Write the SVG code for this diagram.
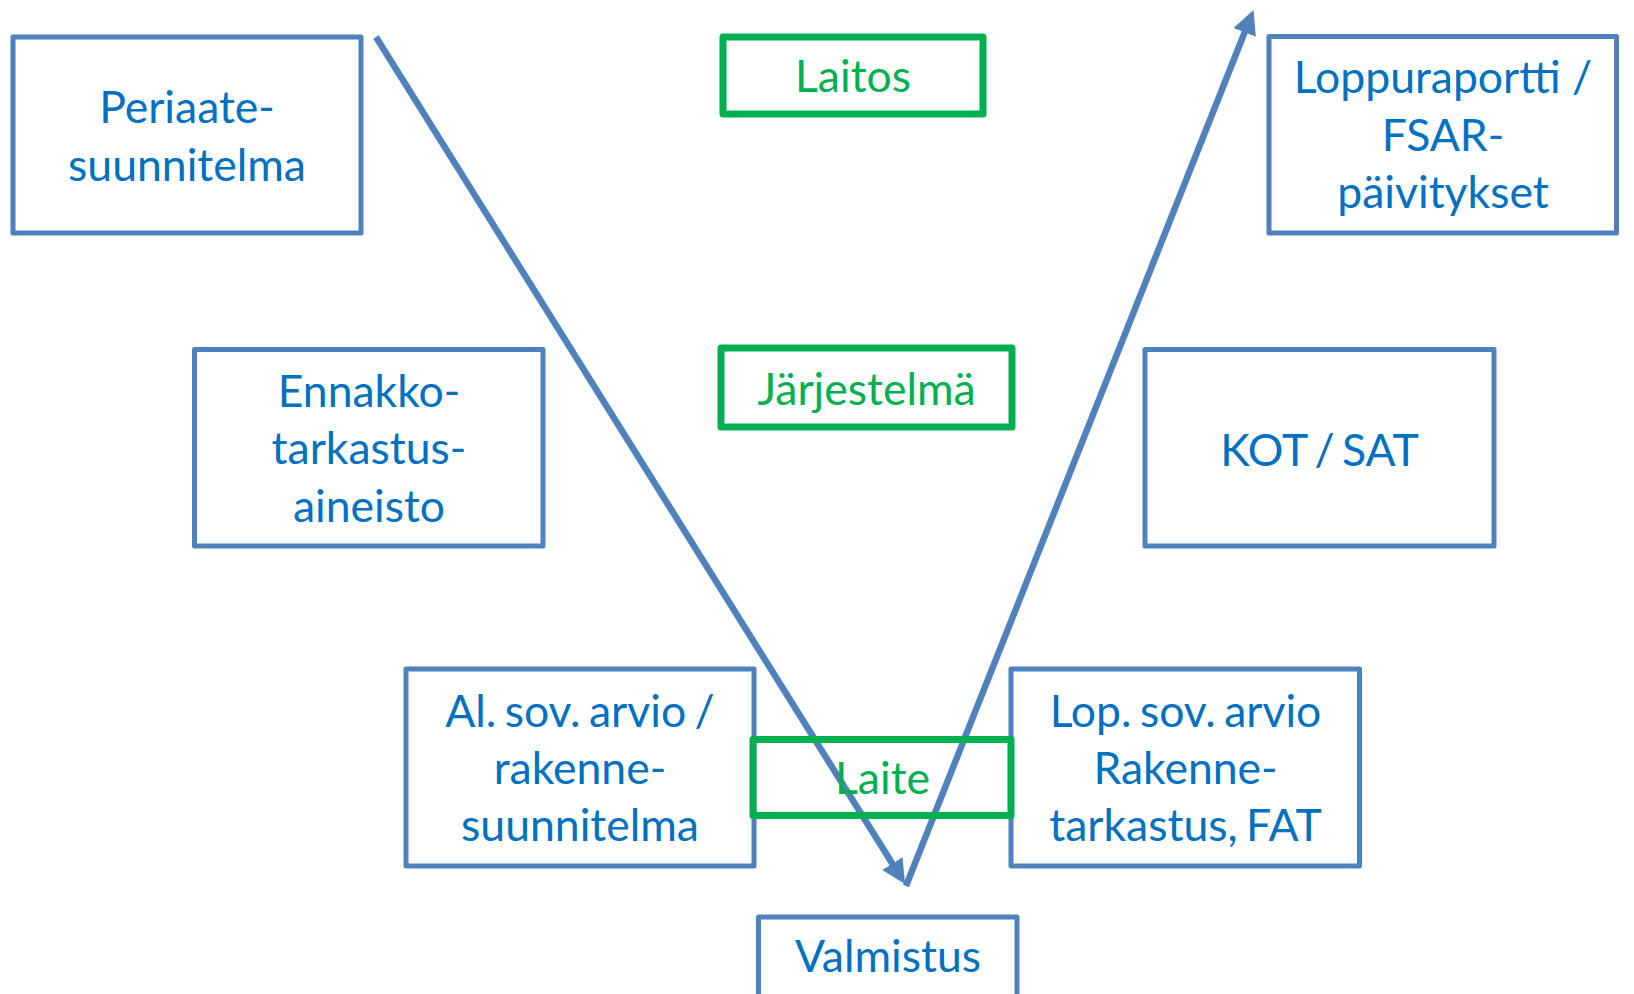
<svg xmlns="http://www.w3.org/2000/svg" width="1634" height="994" viewBox="0 0 1634 994">
<style>
.box{fill:none;stroke:#4F81BD;stroke-width:5;stroke-linejoin:round}
.gbox{fill:none;stroke:#00B050;stroke-width:7;stroke-linejoin:round}
.t{font-family:Lato,"Open Sans","Liberation Sans",sans-serif;font-size:44.5px;fill:#0070C0;text-anchor:middle}
.g{fill:#00B050}
.conn{stroke:#4F81BD;stroke-width:6.5;fill:none}
</style>
<defs>
<marker id="arr" markerUnits="userSpaceOnUse" markerWidth="26" markerHeight="26" refX="2" refY="12" orient="auto">
<path d="M0,0 L24,12 L0,24 z" fill="#4F81BD"/>
</marker>
</defs>
<rect width="1634" height="994" fill="#fff"/>
<g id="periaate"><rect class="box" x="13" y="37" width="348" height="196"/><text class="t" x="187" y="123">Periaate-</text><text class="t" x="187" y="181">suunnitelma</text></g>
<g id="laitos"><rect class="gbox" x="723" y="37" width="260" height="77"/><text class="t g" x="853" y="92">Laitos</text></g>
<g id="loppuraportti"><rect class="box" x="1269" y="36.5" width="347.5" height="196.5"/><text class="t" x="1443" y="93">Loppuraportti /</text><text class="t" x="1443" y="151">FSAR-</text><text class="t" x="1443" y="208">päivitykset</text></g>
<g id="ennakko"><rect class="box" x="194.5" y="349.5" width="348.5" height="196.5"/><text class="t" x="369" y="407">Ennakko-</text><text class="t" x="369" y="464">tarkastus-</text><text class="t" x="369" y="522">aineisto</text></g>
<g id="jarjestelma"><rect class="gbox" x="721" y="348" width="291" height="79"/><text class="t g" x="866.5" y="405">Järjestelmä</text></g>
<g id="kotsat"><rect class="box" x="1145" y="349.5" width="349" height="196.5"/><text class="t" x="1319.5" y="466" word-spacing="-4">KOT / SAT</text></g>
<g id="alsov"><rect class="box" x="406" y="669" width="348" height="197"/><text class="t" x="580" y="727" word-spacing="-3">Al. sov. arvio /</text><text class="t" x="580" y="784">rakenne-</text><text class="t" x="580" y="841">suunnitelma</text></g>
<g id="lopsov"><rect class="box" x="1011" y="669" width="348.5" height="197"/><text class="t" x="1185.5" y="727" word-spacing="-3">Lop. sov. arvio</text><text class="t" x="1185.5" y="784">Rakenne-</text><text class="t" x="1185.5" y="841" word-spacing="-3">tarkastus, FAT</text></g>
<g id="valmistus"><rect class="box" x="758.5" y="917" width="258.5" height="90"/><text class="t" x="888" y="972">Valmistus</text></g>
<g id="connectors">
<line class="conn" x1="376" y1="37" x2="893.4" y2="865.3" marker-end="url(#arr)"/>
<line class="conn" x1="906" y1="886" x2="1245.4" y2="30.5" marker-end="url(#arr)"/>
</g>
<g id="laite"><rect class="gbox" x="753" y="739.5" width="258" height="76"/><text class="t g" x="882.5" y="794">Laite</text></g>
</svg>
